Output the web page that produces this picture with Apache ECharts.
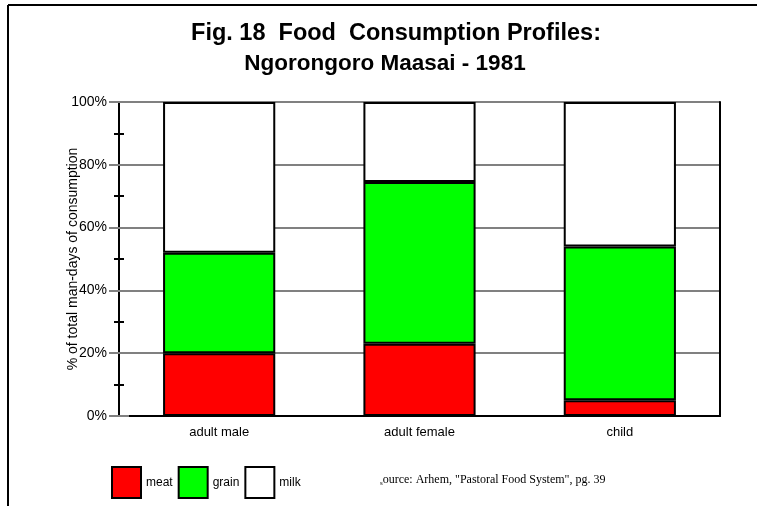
<!DOCTYPE html>
<html>
<head>
    <meta charset="utf-8">
    <title>Food Consumption Profiles</title>
    <script src="https://cdn.jsdelivr.net/npm/echarts@6/dist/echarts.min.js"></script>
    <style>
        html, body { margin: 0; padding: 0; background: #fff; }
        #chart { width: 757px; height: 506px; }
    </style>
</head>
<body>
    <div id="chart"></div>
    <script>
        var categories = ['adult male', 'adult female', 'child'];
        var meat = [20, 23, 5];
        var grain = [32, 51.5, 49];
        var milk = [48, 25.5, 46];

        var chart = echarts.init(document.getElementById('chart'));
        var font = 'Liberation Sans, Arial, sans-serif';
        var segStyle = function (color) {
            return { color: color, borderColor: '#000', borderWidth: 2 };
        };

        chart.setOption({
            animation: false,
            textStyle: { fontFamily: font },
            title: [{
                text: 'Fig. 18  Food  Consumption Profiles:',
                left: 396,
                top: 22,
                textAlign: 'center',
                padding: 0,
                textStyle: { fontSize: 23.5, fontWeight: 'bold', color: '#000', fontFamily: font }
            }, {
                text: 'Ngorongoro Maasai - 1981',
                left: 385,
                top: 52,
                textAlign: 'center',
                padding: 0,
                textStyle: { fontSize: 22.5, fontWeight: 'bold', color: '#000', fontFamily: font }
            }],
            legend: {
                left: 111,
                top: 466,
                padding: 0,
                icon: 'rect',
                itemWidth: 29,
                itemHeight: 31,
                itemGap: 5,
                textStyle: { fontSize: 12, color: '#000', padding: [0, 0, 0, 0] },
                data: ['meat', 'grain', 'milk']
            },
            grid: { left: 119, right: 37, top: 102, bottom: 90 },
            xAxis: [{
                type: 'category',
                data: categories,
                axisLine: { lineStyle: { color: '#000', width: 2 } },
                axisTick: { lineStyle: { color: '#808080', width: 2 }, length: 8 },
                axisLabel: { fontSize: 13, color: '#000', margin: 10 }
            }, {
                type: 'category',
                position: 'top',
                data: categories,
                axisLine: { lineStyle: { color: '#000', width: 2 } },
                axisTick: { show: false },
                axisLabel: { show: false }
            }],
            yAxis: [{
                type: 'value',
                min: 0,
                max: 100,
                interval: 20,
                name: '% of total man-days of consumption',
                nameLocation: 'middle',
                nameGap: 39,
                nameMoveOverlap: false,
                nameTextStyle: { fontSize: 14, color: '#000' },
                axisLine: { show: true, lineStyle: { color: '#000', width: 2 } },
                axisTick: { show: true, length: 10, lineStyle: { color: '#808080', width: 2 } },
                minorTick: { show: true, splitNumber: 2, length: 5, lineStyle: { color: '#000', width: 2 } },
                axisLabel: { formatter: '{value}%', fontSize: 14, color: '#000', margin: 12 },
                splitLine: { show: true, lineStyle: { color: '#808080', width: 2 } }
            }, {
                type: 'value',
                position: 'left',
                min: 0,
                max: 100,
                interval: 20,
                axisLine: { show: false },
                axisTick: { show: true, inside: true, length: 10, lineStyle: { color: '#808080', width: 2 } },
                minorTick: { show: true, splitNumber: 2, length: 5, lineStyle: { color: '#000', width: 2 } },
                axisLabel: { show: false },
                splitLine: { show: false }
            }, {
                type: 'value',
                position: 'right',
                min: 0,
                max: 100,
                axisLine: { show: true, lineStyle: { color: '#000', width: 2 } },
                axisTick: { show: false },
                axisLabel: { show: false },
                splitLine: { show: false }
            }],
            series: [
                { name: 'meat', type: 'bar', stack: 'food', barWidth: '56%', data: meat, itemStyle: segStyle('#ff0000') },
                { name: 'grain', type: 'bar', stack: 'food', barWidth: '56%', data: grain, itemStyle: segStyle('#00ff00') },
                { name: 'milk', type: 'bar', stack: 'food', barWidth: '56%', data: milk, itemStyle: segStyle('#ffffff') }
            ],
            graphic: [
                { type: 'line', shape: { x1: 8, y1: 5, x2: 757, y2: 5 }, style: { stroke: '#000', lineWidth: 2 } },
                { type: 'line', shape: { x1: 8, y1: 5, x2: 8, y2: 506 }, style: { stroke: '#000', lineWidth: 2 } },
                {
                    type: 'text',
                    left: 380,
                    top: 474,
                    style: {
                        text: '{s|s}ource: Arhem, "Pastoral Food System", pg. 39',
                        fill: '#000',
                        font: '12px "Liberation Serif", "Times New Roman", serif',
                        rich: {
                            s: { fontSize: 7, fontFamily: 'Liberation Serif', verticalAlign: 'bottom', padding: [6, 0, 0, 0] }
                        }
                    }
                }
            ]
        });
    </script>
</body>
</html>
